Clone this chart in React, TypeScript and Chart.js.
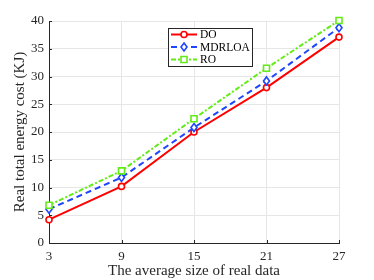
import React, { useEffect, useRef } from "react";
import { Chart, registerables } from "chart.js";

Chart.register(...registerables);

const categories = ["3", "9", "15", "21", "27"];
const doValues = [4.2, 10.2, 20.0, 28.0, 37.1];
const mdrloaValues = [6.1, 11.8, 20.8, 29.2, 38.8];
const roValues = [6.8, 13.0, 22.4, 31.5, 40.1];
const yTicks = [0, 5, 10, 15, 20, 25, 30, 35, 40];

const RED = "#ff0000";
const BLUE = "#1f46ff";
const GREEN = "#62ec16";
const AXIS = "#262626";
const GRID = "#e6e6e6";
const FONT = "'Liberation Serif', 'DejaVu Serif', serif";

const seriesStyles = [
  { label: "DO", color: RED, dash: [] as number[], marker: "circle" },
  { label: "MDRLOA", color: BLUE, dash: [6, 4], marker: "rectRot" },
  { label: "RO", color: GREEN, dash: [5, 2, 2, 2], marker: "rect" },
];

function drawMarker(ctx: CanvasRenderingContext2D, kind: string, x: number, y: number, color: string) {
  ctx.save();
  ctx.setLineDash([]);
  ctx.strokeStyle = color;
  ctx.lineWidth = 1.6;
  ctx.fillStyle = "#ffffff";
  ctx.beginPath();
  if (kind === "circle") {
    ctx.arc(x, y, 3, 0, Math.PI * 2);
  } else if (kind === "rectRot") {
    ctx.moveTo(x, y - 4);
    ctx.lineTo(x + 3, y);
    ctx.lineTo(x, y + 4);
    ctx.lineTo(x - 3, y);
    ctx.closePath();
  } else {
    ctx.rect(x - 3, y - 3, 6, 6);
  }
  ctx.fill();
  ctx.stroke();
  ctx.restore();
}

const customPlugin = {
  id: "matlabStyle",
  afterDraw(chart: any) {
    const ctx = chart.ctx as CanvasRenderingContext2D;
    const area = chart.chartArea;
    const xs = chart.scales.x;
    const ys = chart.scales.y;
    ctx.save();
    // inward ticks
    ctx.strokeStyle = AXIS;
    ctx.lineWidth = 1;
    ctx.setLineDash([]);
    ctx.beginPath();
    categories.forEach((_, i) => {
      const px = Math.round(xs.getPixelForValue(i)) + 0.5;
      ctx.moveTo(px, area.bottom);
      ctx.lineTo(px, area.bottom - 3);
    });
    yTicks.forEach((v) => {
      const py = Math.round(ys.getPixelForValue(v)) + 0.5;
      ctx.moveTo(area.left, py);
      ctx.lineTo(area.left + 3, py);
    });
    ctx.stroke();

    // markers
    chart.data.datasets.forEach((ds: any, di: number) => {
      const meta = chart.getDatasetMeta(di);
      meta.data.forEach((pt: any) => {
        drawMarker(ctx, seriesStyles[di].marker, pt.x, pt.y, seriesStyles[di].color);
      });
    });

    // legend
    const lx = 168.5;
    const ly = 28.5;
    const lw = 84;
    const lh = 38;
    ctx.fillStyle = "#ffffff";
    ctx.fillRect(lx, ly, lw, lh);
    ctx.strokeStyle = "#262626";
    ctx.lineWidth = 1;
    ctx.strokeRect(lx, ly, lw, lh);
    const rows = [34.5, 47, 59.5];
    ctx.font = "11.5px " + FONT;
    ctx.textBaseline = "middle";
    ctx.textAlign = "left";
    seriesStyles.forEach((s, i) => {
      const y = rows[i];
      ctx.strokeStyle = s.color;
      ctx.lineWidth = 2;
      ctx.setLineDash(s.dash);
      ctx.beginPath();
      ctx.moveTo(171, y);
      ctx.lineTo(197, y);
      ctx.stroke();
      drawMarker(ctx, s.marker, 184, y, s.color);
      ctx.fillStyle = "#000000";
      ctx.fillText(s.label, 200, y + 0.5);
    });
    ctx.restore();
  },
};

export default function App() {
  const ref = useRef<HTMLCanvasElement | null>(null);
  useEffect(() => {
    if (!ref.current) return;
    const data = [doValues, mdrloaValues, roValues];
    const chart = new Chart(ref.current, {
      type: "line",
      data: {
        labels: categories,
        datasets: seriesStyles.map((s, i) => ({
          label: s.label,
          data: data[i],
          borderColor: s.color,
          backgroundColor: s.color,
          borderWidth: 2,
          borderDash: s.dash,
          pointRadius: 0,
          tension: 0,
          fill: false,
        })),
      },
      options: {
        animation: false,
        responsive: false,
        maintainAspectRatio: false,
        layout: { padding: { left: 0, right: 35, top: 21, bottom: 0 } },
        plugins: {
          legend: { display: false },
          tooltip: { enabled: false },
        },
        scales: {
          x: {
            type: "category",
            offset: false,
            grid: { color: GRID, drawTicks: false, lineWidth: 1 },
            border: { display: true, color: AXIS, width: 1 },
            ticks: {
              color: "#262626",
              font: { family: FONT, size: 13 },
              padding: 6,
              maxRotation: 0,
            },
            title: {
              display: true,
              text: "The average size of real data",
              color: "#262626",
              font: { family: FONT, size: 15 },
              padding: { top: 0, bottom: 0 },
            },
            afterFit: (scale: any) => {
              scale.height = 37;
            },
          },
          y: {
            min: 0,
            max: 40,
            grid: { color: GRID, drawTicks: false, lineWidth: 1 },
            border: { display: true, color: AXIS, width: 1 },
            ticks: {
              stepSize: 5,
              color: "#262626",
              font: { family: FONT, size: 13 },
              padding: 5,
            },
            title: {
              display: true,
              text: "Real total energy cost (KJ)",
              color: "#262626",
              font: { family: FONT, size: 15 },
              padding: { top: 11, bottom: 0 },
            },
            afterFit: (scale: any) => {
              scale.width = 49;
            },
          },
        },
      },
      plugins: [customPlugin],
    });
    return () => chart.destroy();
  }, []);
  return (
    <div style={{ position: "fixed", left: 0, top: 0, width: 374, height: 280, background: "#ffffff" }}>
      <canvas ref={ref} width={374} height={280} style={{ width: 374, height: 280 }} />
    </div>
  );
}
